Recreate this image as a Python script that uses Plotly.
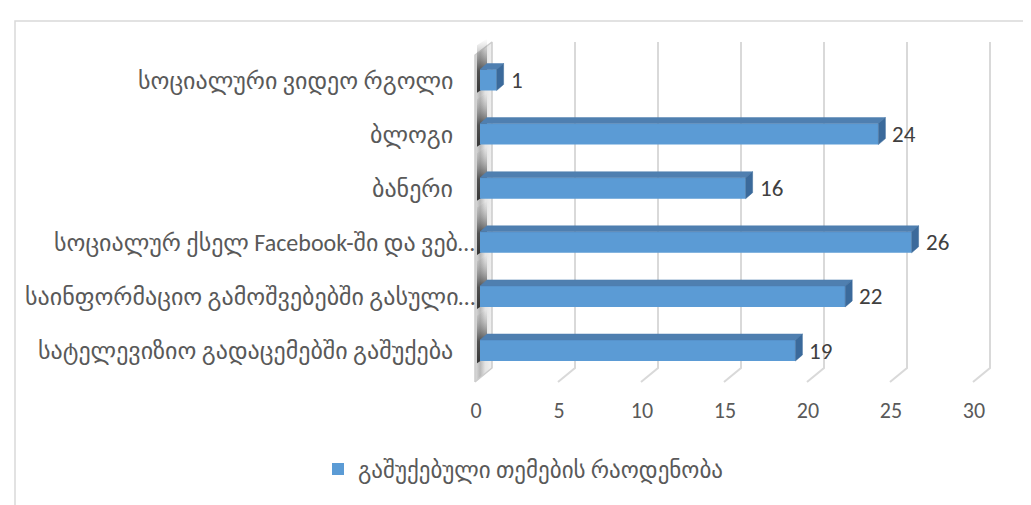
import plotly.graph_objects as go

# ---------------- data (bottom -> top, as in the chart) ----------------
categories = [
    "სატელევიზიო გადაცემებში გაშუქება",
    "საინფორმაციო გამოშვებებში გასული…",
    "სოციალურ ქსელ Facebook-ში და ვებ…",
    "ბანერი",
    "ბლოგი",
    "სოციალური ვიდეო რგოლი",
]
values = [19, 22, 26, 16, 24, 1]
series_name = "გაშუქებული თემების რაოდენობა"
x_ticks = [0, 5, 10, 15, 20, 25, 30]
label_truncated = [False, True, True, False, False, False]

# ---------------- geometry / style ----------------
W, H = 1031, 505
ML, MR, MT, MB = 455, 31, 30, 129
PX_X, X0_PX = 16.6, 472.0      # pixels per unit, pixel of value 0 (bar front)
PX_Y, Y0_PX = 54.1, 342.5      # pixels per category step, pixel of first category


def dx(px):
    return (px - X0_PX) / PX_X


def dy(py):
    return (Y0_PX - py) / PX_Y


def paper_x(px):
    return (px - ML) / (W - ML - MR)


def paper_y(py):
    return (H - MB - py) / (H - MT - MB)


x_range = [dx(ML), dx(W - MR)]
y_range = [dy(H - MB), dy(MT)]

BAR_W = 21 / PX_Y
DEP_X = 7 / PX_X
DEP_Y = 6 / PX_Y
GRID_BACK = 12 / PX_X           # back wall offset
GRID_FRONT = -5 / PX_X          # front floor offset
Y_BACK_BOT, Y_BACK_TOP = dy(360), dy(34)
Y_FRONT_BOT, Y_FRONT_TOP = dy(374), dy(47)

FRONT = "#5b9bd5"
TOP = "#4f7fb0"
SIDE = "#3b6a9b"
GRID = "#d9d9d9"
TXT = "#595959"
FONT = "Calibri, 'Open Sans', 'DejaVu Sans', sans-serif"

ypos = list(range(len(categories)))

fig = go.Figure()

# ---------- base subplot: wall, floor, back gridlines ----------
fig.add_trace(go.Scatter(
    x=[GRID_FRONT, GRID_FRONT, GRID_BACK, GRID_BACK, GRID_FRONT],
    y=[Y_FRONT_BOT, Y_FRONT_TOP, Y_BACK_TOP, Y_BACK_BOT, Y_FRONT_BOT],
    fill="toself", mode="lines",
    line=dict(color="#cccccc", width=1.5),
    fillgradient=dict(type="horizontal",
                      colorscale=[[0, "#dedede"], [0.3, "#b8b8b8"], [0.6, "#e4e4e4"], [1, "#f0f0f0"]]),
    hoverinfo="skip", showlegend=False, xaxis="x", yaxis="y"))

for yi in ypos:
    y_lo = yi - BAR_W / 2 - 0.04
    y_hi = yi + BAR_W / 2 + 0.45
    sx0 = GRID_FRONT + 2 / PX_X
    sx1 = GRID_BACK - 5 / PX_X
    fig.add_trace(go.Scatter(
        x=[sx0, sx0, sx1, sx1, sx0],
        y=[y_lo, y_hi, y_hi + 0.12, y_lo + 0.12, y_lo],
        fill="toself", mode="none",
        fillgradient=dict(type="vertical", start=y_lo, stop=y_hi + 0.12,
                          colorscale=[[0, "rgba(45,45,45,0.95)"], [0.4, "rgba(60,60,60,0.85)"],
                                      [1, "rgba(150,150,150,0)"]]),
        hoverinfo="skip", showlegend=False, xaxis="x", yaxis="y"))

for v in x_ticks[1:]:
    fig.add_trace(go.Scatter(
        x=[v + GRID_FRONT, v + GRID_BACK, v + GRID_BACK],
        y=[Y_FRONT_BOT, Y_BACK_BOT, Y_BACK_TOP],
        mode="lines", line=dict(color=GRID, width=2),
        hoverinfo="skip", showlegend=False, xaxis="x", yaxis="y"))

# ---------- overlay subplot: bars ----------
fig.add_trace(go.Bar(
    y=ypos, x=values, orientation="h", width=BAR_W,
    marker=dict(color=FRONT, line=dict(width=0)),
    name=series_name, showlegend=True, xaxis="x2", yaxis="y2"))

for yi, v in zip(ypos, values):
    top_y = yi + BAR_W / 2
    bot_y = yi - BAR_W / 2
    fig.add_trace(go.Scatter(
        x=[0, v, v + DEP_X, DEP_X, 0],
        y=[top_y, top_y, top_y + DEP_Y, top_y + DEP_Y, top_y],
        fill="toself", mode="lines", fillcolor=TOP, line=dict(color=TOP, width=0.5),
        hoverinfo="skip", showlegend=False, xaxis="x2", yaxis="y2"))
    fig.add_trace(go.Scatter(
        x=[v, v + DEP_X, v + DEP_X, v, v],
        y=[bot_y, bot_y + DEP_Y, top_y + DEP_Y, top_y, bot_y],
        fill="toself", mode="lines", fillcolor=SIDE, line=dict(color=SIDE, width=0.5),
        hoverinfo="skip", showlegend=False, xaxis="x2", yaxis="y2"))

annotations = []
for yi, v in zip(ypos, values):
    annotations.append(dict(
        x=v, y=yi, xref="x", yref="y", text=str(v), showarrow=False,
        xanchor="left", yanchor="middle", xshift=12,
        font=dict(family=FONT, size=23, color="#404040")))
for yi, c, tr in zip(ypos, categories, label_truncated):
    annotations.append(dict(
        x=0, y=yi, xref="x", yref="y", text=c, showarrow=False,
        xanchor="right", yanchor="middle", xshift=-3 if tr else -25,
        font=dict(family=FONT, size=24, color=TXT)))

fig.update_layout(
    width=W, height=H,
    margin=dict(l=ML, r=MR, t=MT, b=MB, autoexpand=False),
    paper_bgcolor="white", plot_bgcolor="rgba(0,0,0,0)",
    xaxis=dict(range=x_range, tickvals=x_ticks, ticktext=[str(t) for t in x_ticks],
               showgrid=False, zeroline=False, showline=False, ticks="",
               ticklabelshift=-4, ticklabelstandoff=11,
               tickfont=dict(family=FONT, size=22, color=TXT), fixedrange=True),
    yaxis=dict(range=y_range, showgrid=False, zeroline=False, showline=False,
               showticklabels=False, ticks="", fixedrange=True),
    xaxis2=dict(range=x_range, overlaying="x", anchor="y2", visible=False, fixedrange=True),
    yaxis2=dict(range=y_range, overlaying="y", anchor="x2", visible=False, fixedrange=True),
    showlegend=True,
    legend=dict(orientation="h", x=0.5, xanchor="center", xref="container",
                y=1 - 461 / H, yref="container", yanchor="middle",
                font=dict(family=FONT, size=23, color=TXT)),
    annotations=annotations,
    shapes=[dict(type="rect", xref="paper", yref="paper",
                 x0=paper_x(7), x1=paper_x(W + 10), y0=paper_y(H + 10), y1=paper_y(13),
                 line=dict(color=GRID, width=1.5), fillcolor="rgba(0,0,0,0)", layer="below")],
)

fig.write_html("out.html")
